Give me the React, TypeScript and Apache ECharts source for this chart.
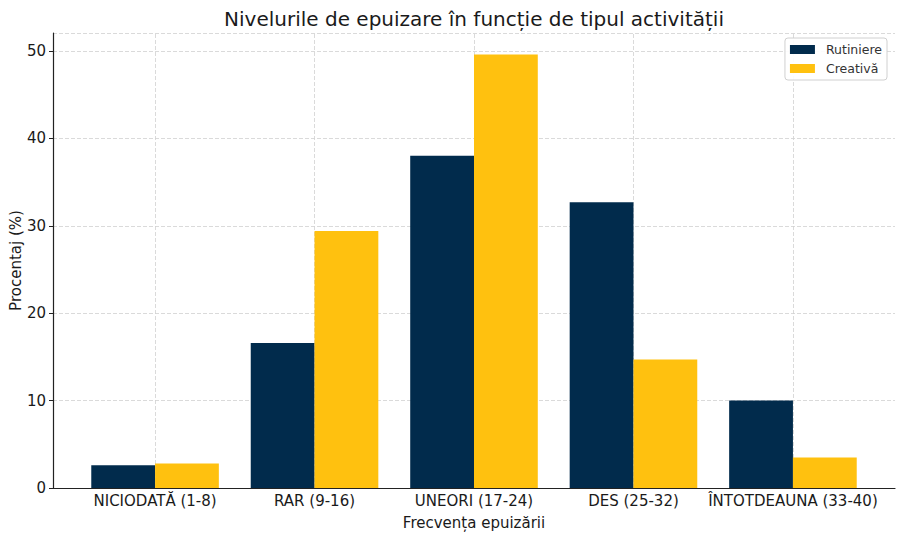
import React, { useEffect, useRef } from "react";
import * as echarts from "echarts";

const categories = [
  "NICIODATĂ (1-8)",
  "RAR (9-16)",
  "UNEORI (17-24)",
  "DES (25-32)",
  "ÎNTOTDEAUNA (33-40)",
];
const rutiniere = [2.6, 16.6, 38.0, 32.7, 10.0];
const creativa = [2.8, 29.4, 49.6, 14.7, 3.5];
const seriesNames = ["Rutiniere", "Creativă"];
const yTicks = [0, 10, 20, 30, 40, 50];

const FONT = "DejaVu Sans";
const GRID_STYLE = { color: "#d0d0d0", type: [4, 2] as number[], width: 0.8 };

export default function App() {
  const ref = useRef<HTMLDivElement>(null);
  useEffect(() => {
    if (!ref.current) return;
    const chart = echarts.init(ref.current, null, { renderer: "svg" });
    const gridLine = categories.map((_, i) => ({ xAxis: i }));
    chart.setOption({
      animation: false,
      textStyle: { fontFamily: FONT },
      title: {
        text: "Nivelurile de epuizare în funcție de tipul activității",
        left: 469,
        top: 4,
        textAlign: "center",
        textStyle: { fontFamily: FONT, fontSize: 20, fontWeight: "normal", color: "#1a1a1a" },
      },
      legend: {
        orient: "vertical",
        right: 17,
        top: 38,
        z: 10,
        padding: [5, 5, 5, 5],
        icon: "rect",
        itemWidth: 25,
        itemHeight: 9,
        itemGap: 6,
        backgroundColor: "rgba(255,255,255,0.9)",
        borderColor: "#d0d0d0",
        borderWidth: 1,
        borderRadius: 3,
        formatter: "{a|{name}}",
        textStyle: {
          fontFamily: FONT,
          fontSize: 12.5,
          color: "#333",
          rich: { a: { fontFamily: FONT, fontSize: 12.5, color: "#333", padding: [0, 0, 0, 6] } },
        },
        data: seriesNames,
      },
      grid: { left: 53, right: 9, top: 33, bottom: 52, containLabel: false, outerBoundsMode: "none" },
      xAxis: {
        type: "value",
        min: -0.64,
        max: 4.64,
        name: "Frecvența epuizării",
        nameLocation: "middle",
        nameGap: 27,
        nameMoveOverlap: false,
        nameTextStyle: { fontFamily: FONT, fontSize: 15, color: "#1a1a1a" },
        axisLine: { show: true, onZero: false, lineStyle: { color: "#222", width: 1.2 } },
        axisTick: { show: false },
        splitLine: { show: false },
        axisLabel: {
          fontFamily: FONT,
          fontSize: 15,
          color: "#1a1a1a",
          margin: 5,
          formatter: (v: number) => {
            const i = Math.round(v);
            return Math.abs(v - i) < 1e-6 && i >= 0 && i < categories.length ? categories[i] : "";
          },
        },
      },
      yAxis: {
        type: "value",
        min: 0,
        max: 52.05,
        interval: 10,
        name: "Procentaj (%)",
        nameLocation: "middle",
        nameGap: 30,
        nameMoveOverlap: false,
        nameTextStyle: { fontFamily: FONT, fontSize: 15, color: "#1a1a1a" },
        axisLine: { show: true, onZero: false, lineStyle: { color: "#222", width: 1.2 } },
        axisTick: { show: true, length: 4, lineStyle: { color: "#222" } },
        axisLabel: {
          fontFamily: FONT,
          fontSize: 15,
          color: "#1a1a1a",
          margin: 7,
          showMaxLabel: false,
          formatter: (v: number) => (yTicks.includes(v) ? String(v) : ""),
        },
        splitLine: { show: true, lineStyle: GRID_STYLE },
      },
      series: [
        {
          name: "grid",
          type: "line",
          data: [],
          z: 0,
          silent: true,
          markLine: {
            z: 0,
            silent: true,
            symbol: "none",
            label: { show: false },
            lineStyle: GRID_STYLE,
            emphasis: { disabled: true },
            data: gridLine,
          },
        },
        {
          name: seriesNames[0],
          type: "bar",
          barWidth: "40%",
          barGap: "0%",
          z: 3,
          itemStyle: { color: "#012b4c" },
          data: rutiniere.map((v, i) => [i, v]),
        },
        {
          name: seriesNames[1],
          type: "bar",
          barWidth: "40%",
          barGap: "0%",
          z: 3,
          itemStyle: { color: "#ffc10f" },
          data: creativa.map((v, i) => [i, v]),
        },
      ],
    });
    return () => chart.dispose();
  }, []);
  return <div ref={ref} style={{ width: 904, height: 540, margin: -8 }} />;
}
